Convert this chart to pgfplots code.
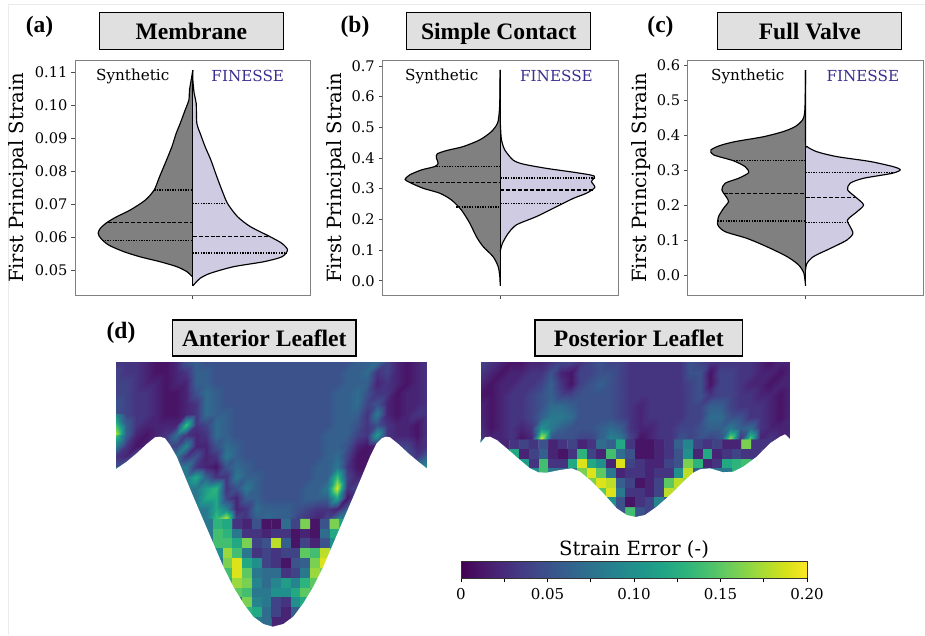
\documentclass[border=0pt]{standalone}
\usepackage{fontspec}
\setmainfont{DejaVu Serif}
\newfontfamily\tf{Liberation Serif}
\usepackage{pgfplots}
\pgfplotsset{compat=1.18}
\definecolor{lav}{RGB}{206,203,226}
\definecolor{ind}{RGB}{58,46,145}
\definecolor{spine}{RGB}{128,128,128}
\definecolor{titlebg}{RGB}{224,224,224}
\definecolor{faint}{RGB}{235,235,235}
\newcommand{\ticksize}{\fontsize{14.6}{16}\selectfont}
\newcommand{\labsize}{\fontsize{19.6}{22}\selectfont}
\newcommand{\synsize}{\fontsize{15.2}{17}\selectfont}
\pgfplotsset{
  myviolin/.style={
    scale only axis, width=235.7pt, height=235.5pt,
    xmin=-353.5, xmax=353.5, anchor=south west,
    axis line style={spine, line width=0.9pt},
    xtick={0}, xticklabels={}, ytick pos=left, xtick pos=bottom,
    tick align=outside, major tick length=3.5pt,
    tick style={black!70, line width=0.7pt},
    tick label style={font=\ticksize},
    /pgf/number format/assume math mode=true,
    ylabel={First Principal Strain},
    ylabel style={font=\labsize, anchor=center},
    yticklabel style={xshift=-0.5pt},
    clip=false},
  myvl/.style={draw=black, fill=gray, line width=1.15pt, smooth, tension=0.45},
  myvr/.style={draw=black, fill=lav, line width=1.15pt, smooth, tension=0.45},
  myq/.style={black, line width=1.3pt, dash pattern=on 1.4pt off 1.2pt},
  mymed/.style={black, line width=1.3pt, dash pattern=on 4pt off 1.9pt},
  myctr/.style={black, line width=1.3pt},
  myheat/.style={scale only axis, hide axis, anchor=south west, y dir=reverse,
    colormap name=viridis, point meta min=0, point meta max=20, clip=false},
  mycells/.style={matrix plot*, point meta=explicit, mesh/cols=32},
  mysmooth/.style={surf, shader=interp, point meta=explicit, mesh/cols=32},
}
\begin{document}
\begin{tikzpicture}
\path[use as bounding box] (0,0) rectangle (925pt,635pt);
\draw[faint, line width=0.8pt] (8pt,0pt) -- (8pt,631pt) -- (925pt,631pt);

% (a) Membrane
\begin{axis}[myviolin, at={(75pt,339.3pt)}, ymin=0.0422, ymax=0.1137,
  ytick={0.05,0.06,0.07,0.08,0.09,0.10,0.11},
  yticklabels={0.05,0.06,0.07,0.08,0.09,0.10,0.11},
  ylabel style={at={(axis description cs:-0.243,0.5)}}]
\addplot[myvl] coordinates {(0,0.1107)(-5,0.1077)(-10,0.1046)(-12,0.1016)(-23,0.0986)(-38,0.0945)(-50,0.0915)(-63,0.0874)(-83,0.0824)(-100,0.0783)(-116,0.0743)(-143,0.0712)(-188,0.0682)(-228,0.0662)(-258,0.0644)(-278,0.0626)(-284,0.0611)(-276,0.0596)(-253,0.0576)(-208,0.0556)(-158,0.0540)(-98,0.0525)(-48,0.0510)(-18,0.0495)(0,0.0478)};
\addplot[myvr] coordinates {(0,0.1107)(0,0.1077)(4,0.1036)(10,0.1006)(12,0.0945)(22,0.0915)(37,0.0874)(54,0.0834)(72,0.0783)(87,0.0743)(104,0.0702)(134,0.0662)(172,0.0632)(232,0.0601)(267,0.0581)(284,0.0561)(267,0.0540)(212,0.0525)(122,0.0510)(52,0.0490)(22,0.0475)(7,0.0460)(0,0.0452)};
\addplot[myq] coordinates {(-116,0.0743)(0,0.0743)};
\addplot[mymed] coordinates {(-256,0.0644)(0,0.0644)};
\addplot[myq] coordinates {(-272,0.0589)(0,0.0589)};
\addplot[myq] coordinates {(0,0.0701)(104,0.0701)};
\addplot[mymed] coordinates {(0,0.0602)(228,0.0602)};
\addplot[myq] coordinates {(0,0.0552)(282,0.0552)};
\addplot[myctr] coordinates {(0,0.1107)(0,0.0452)};
\node[font=\synsize] at (axis description cs:0.245,0.932) {Synthetic};
\node[font=\synsize, text=ind] at (axis description cs:0.733,0.932) {FINESSE};
\end{axis}

% (b) Simple Contact
\begin{axis}[myviolin, at={(382.3pt,339.3pt)}, ymin=-0.0489, ymax=0.7185,
  ytick={0,0.1,0.2,0.3,0.4,0.5,0.6,0.7},
  yticklabels={0.0,0.1,0.2,0.3,0.4,0.5,0.6,0.7},
  ylabel style={at={(axis description cs:-0.194,0.5)}}]
\addplot[myvl] coordinates {(0,0.687)(-1,0.589)(-3,0.546)(-8,0.513)(-26,0.486)(-61,0.459)(-111,0.437)(-161,0.424)(-189,0.413)(-191,0.399)(-186,0.383)(-196,0.372)(-236,0.361)(-271,0.345)(-285,0.330)(-271,0.320)(-231,0.301)(-181,0.285)(-146,0.263)(-116,0.230)(-91,0.187)(-71,0.143)(-51,0.111)(-21,0.078)(-6,0.046)(-1,0.013)(0,-0.016)};
\addplot[myvr] coordinates {(0,0.687)(0,0.55)(1,0.502)(4,0.459)(14,0.426)(39,0.393)(69,0.380)(139,0.366)(229,0.352)(282,0.341)(274,0.323)(284,0.304)(259,0.285)(219,0.268)(169,0.241)(109,0.209)(49,0.182)(24,0.154)(7,0.122)(0,0.095)};
\addplot[myq] coordinates {(-191,0.373)(0,0.373)};
\addplot[mymed] coordinates {(-270,0.320)(0,0.320)};
\addplot[myq] coordinates {(-131,0.240)(0,0.240)};
\addplot[myq] coordinates {(0,0.335)(282,0.335)};
\addplot[mymed] coordinates {(0,0.296)(278,0.296)};
\addplot[myq] coordinates {(0,0.251)(189,0.251)};
\addplot[myctr] coordinates {(0,0.687)(0,-0.016)};
\node[font=\synsize] at (axis description cs:0.252,0.932) {Synthetic};
\node[font=\synsize, text=ind] at (axis description cs:0.739,0.932) {FINESSE};
\end{axis}

% (c) Full Valve
\begin{axis}[myviolin, at={(687.7pt,339.3pt)}, ymin=-0.0592, ymax=0.6151,
  ytick={0,0.1,0.2,0.3,0.4,0.5,0.6},
  yticklabels={0.0,0.1,0.2,0.3,0.4,0.5,0.6},
  ylabel style={at={(axis description cs:-0.198,0.5)}}]
\addplot[myvl] coordinates {(0,0.587)(-1,0.501)(-3,0.463)(-9,0.444)(-31,0.425)(-66,0.411)(-126,0.396)(-211,0.382)(-256,0.371)(-284,0.358)(-276,0.344)(-216,0.327)(-181,0.310)(-171,0.293)(-201,0.277)(-241,0.263)(-251,0.244)(-238,0.224)(-231,0.210)(-246,0.191)(-261,0.167)(-263,0.143)(-241,0.124)(-176,0.105)(-116,0.081)(-56,0.053)(-21,0.029)(-5,0.005)(0,-0.031)};
\addplot[myvr] coordinates {(0,0.587)(0,0.382)(4,0.368)(34,0.353)(94,0.339)(194,0.325)(264,0.310)(284,0.301)(259,0.291)(174,0.277)(134,0.263)(126,0.244)(149,0.224)(174,0.201)(154,0.181)(126,0.158)(134,0.138)(142,0.119)(124,0.100)(74,0.076)(24,0.053)(4,0.033)(0,0.014)};
\addplot[myq] coordinates {(-216,0.327)(0,0.327)};
\addplot[mymed] coordinates {(-246,0.234)(0,0.234)};
\addplot[myq] coordinates {(-263,0.155)(0,0.155)};
\addplot[myq] coordinates {(0,0.293)(269,0.293)};
\addplot[mymed] coordinates {(0,0.222)(149,0.222)};
\addplot[myq] coordinates {(0,0.150)(129,0.150)};
\addplot[myctr] coordinates {(0,0.587)(0,-0.031)};
\node[font=\synsize] at (axis description cs:0.255,0.932) {Synthetic};
\node[font=\synsize, text=ind] at (axis description cs:0.743,0.932) {FINESSE};
\end{axis}

% Anterior leaflet
\begin{axis}[myheat, at={(116pt,8pt)}, width=311pt, height=265pt,
  xmin=116, xmax=427, ymin=362, ymax=627]
\addplot[mysmooth] table[header=false, row sep=\\, meta index=0,
  x expr={116+10.032*mod(\coordindex,32)},
  y expr={362+10.47*floor(\coordindex/32)}]{
3\\3\\3\\2\\1\\1\\2\\5\\6\\5\\5\\5\\5\\5\\5\\5\\5\\5\\5\\5\\5\\5\\5\\5\\6\\6\\7\\4\\2\\1\\2\\3\\
4\\3\\3\\2\\1\\1\\2\\3\\6\\6\\5\\5\\5\\5\\5\\5\\5\\5\\5\\5\\5\\5\\5\\6\\6\\7\\3\\4\\2\\1\\2\\3\\
4\\4\\3\\2\\2\\1\\2\\2\\6\\6\\5\\5\\5\\5\\5\\5\\5\\5\\5\\5\\5\\5\\5\\6\\6\\6\\2\\3\\2\\1\\2\\3\\
4\\4\\3\\3\\2\\1\\1\\2\\5\\7\\6\\5\\5\\5\\5\\5\\5\\5\\5\\5\\5\\5\\6\\6\\7\\5\\3\\3\\1\\2\\2\\3\\
5\\4\\3\\3\\2\\1\\1\\2\\3\\7\\6\\5\\5\\5\\5\\5\\5\\5\\5\\5\\5\\5\\6\\6\\7\\4\\5\\2\\1\\2\\2\\3\\
5\\4\\3\\3\\2\\1\\1\\2\\3\\7\\6\\6\\5\\5\\5\\5\\5\\5\\5\\5\\5\\5\\6\\6\\6\\3\\8\\2\\1\\2\\3\\3\\
9\\6\\3\\2\\2\\2\\2\\14\\3\\4\\7\\6\\5\\5\\5\\5\\5\\5\\5\\5\\5\\5\\6\\6\\5\\3\\5\\3\\2\\2\\1\\3\\
18\\6\\2\\1\\2\\3\\7\\3\\2\\3\\7\\6\\5\\5\\5\\5\\5\\5\\5\\5\\5\\6\\6\\6\\4\\3\\11\\3\\2\\2\\1\\3\\
14\\3\\1\\2\\4\\4\\4\\9\\2\\2\\5\\7\\6\\5\\5\\5\\5\\5\\5\\5\\5\\6\\6\\5\\2\\1\\2\\3\\4\\4\\2\\3\\
3\\2\\5\\8\\8\\8\\8\\3\\5\\2\\3\\8\\6\\5\\5\\5\\5\\5\\5\\5\\5\\6\\7\\4\\1\\1\\1\\2\\5\\5\\3\\6\\
5\\8\\8\\8\\8\\8\\8\\8\\3\\2\\1\\5\\7\\6\\5\\5\\5\\5\\5\\5\\6\\6\\8\\3\\1\\1\\2\\4\\5\\5\\8\\10\\
8\\8\\8\\8\\8\\8\\8\\8\\12\\6\\3\\3\\8\\6\\6\\5\\5\\5\\5\\5\\6\\6\\14\\4\\2\\3\\3\\5\\8\\8\\8\\8\\
8\\8\\8\\8\\8\\8\\8\\8\\8\\11\\13\\3\\5\\8\\6\\5\\5\\5\\5\\6\\6\\8\\19\\3\\4\\5\\7\\8\\8\\8\\8\\8\\
8\\8\\8\\8\\8\\8\\8\\8\\8\\12\\12\\4\\2\\6\\6\\5\\5\\5\\5\\6\\6\\6\\12\\1\\5\\6\\8\\8\\8\\8\\8\\8\\
8\\8\\8\\8\\8\\8\\8\\8\\8\\8\\12\\9\\2\\3\\7\\6\\6\\6\\5\\4\\3\\3\\2\\6\\9\\8\\8\\8\\8\\8\\8\\8\\
8\\8\\8\\8\\8\\8\\8\\8\\8\\8\\14\\19\\4\\3\\6\\7\\6\\6\\4\\3\\2\\4\\8\\9\\8\\8\\8\\8\\8\\8\\8\\8\\
};
\addplot[mycells] table[header=false, row sep=\\, meta index=0,
  x expr={120.86+9.72*mod(\coordindex,32)},
  y expr={523.95+9.815*floor(\coordindex/32)}]{
8\\8\\8\\8\\8\\8\\8\\8\\8\\8\\13\\12\\3\\2\\5\\1\\1\\7\\4\\16\\1\\5\\16\\11\\8\\8\\8\\8\\8\\8\\8\\8\\
8\\8\\8\\8\\8\\8\\8\\8\\8\\8\\14\\13\\8\\3\\3\\2\\3\\3\\1\\2\\1\\7\\12\\6\\8\\8\\8\\8\\8\\8\\8\\8\\
8\\8\\8\\8\\8\\8\\8\\8\\8\\8\\14\\14\\12\\16\\4\\5\\18\\6\\1\\4\\2\\5\\10\\7\\8\\8\\8\\8\\8\\8\\8\\8\\
8\\8\\8\\8\\8\\8\\8\\8\\8\\8\\10\\17\\14\\8\\3\\4\\3\\4\\4\\15\\14\\18\\14\\8\\8\\8\\8\\8\\8\\8\\8\\8\\
8\\8\\8\\8\\8\\8\\8\\8\\8\\8\\8\\16\\19\\12\\10\\4\\3\\1\\5\\6\\16\\19\\15\\8\\8\\8\\8\\8\\8\\8\\8\\8\\
8\\8\\8\\8\\8\\8\\8\\8\\8\\8\\8\\14\\19\\15\\8\\7\\7\\3\\4\\8\\17\\16\\8\\8\\8\\8\\8\\8\\8\\8\\8\\8\\
8\\8\\8\\8\\8\\8\\8\\8\\8\\8\\8\\13\\17\\16\\9\\7\\9\\11\\9\\13\\15\\13\\8\\8\\8\\8\\8\\8\\8\\8\\8\\8\\
8\\8\\8\\8\\8\\8\\8\\8\\8\\8\\8\\8\\15\\14\\8\\8\\10\\10\\12\\15\\14\\8\\8\\8\\8\\8\\8\\8\\8\\8\\8\\8\\
8\\8\\8\\8\\8\\8\\8\\8\\8\\8\\8\\8\\8\\16\\9\\8\\4\\3\\10\\12\\13\\8\\8\\8\\8\\8\\8\\8\\8\\8\\8\\8\\
8\\8\\8\\8\\8\\8\\8\\8\\8\\8\\8\\8\\8\\13\\12\\7\\4\\2\\6\\8\\8\\8\\8\\8\\8\\8\\8\\8\\8\\8\\8\\8\\
8\\8\\8\\8\\8\\8\\8\\8\\8\\8\\8\\8\\8\\8\\8\\7\\2\\2\\6\\6\\8\\8\\8\\8\\8\\8\\8\\8\\8\\8\\8\\8\\
};
\addplot[fill=white, draw=none] coordinates {(110,469)(116,469)(126.7,461.7)(136.7,453.3)(146.7,444)(155,437.3)(160,436.7)(165,438.3)(170,445)(176.7,456.7)(185,476.7)(193.3,496.7)(203.3,520)(213.3,543.3)(223.3,566.7)(233.3,586.7)(243.3,603.3)(253.3,616.7)(263.3,624)(272.7,626.7)(283.3,624)(293.3,616.7)(303.3,603.3)(313.3,586.7)(323.3,566.7)(333.3,543.3)(343.3,520)(353.3,496.7)(361.7,476.7)(370,456.7)(376.7,443.3)(381.7,438.3)(385.7,436.7)(390,437.3)(398.3,444)(408.3,453.3)(418.3,461.7)(426.7,468.3)(432,468.3)(432,634)(110,634)};
\end{axis}

% Posterior leaflet
\begin{axis}[myheat, at={(480.7pt,118pt)}, width=309.3pt, height=155pt,
  xmin=480.7, xmax=790, ymin=362, ymax=517]
\addplot[mysmooth] table[header=false, row sep=\\, meta index=0,
  x expr={480.7+9.977*mod(\coordindex,32)},
  y expr={362+11.07*floor(\coordindex/32)}]{
4\\3\\2\\1\\1\\2\\2\\3\\4\\4\\3\\4\\5\\4\\4\\3\\3\\3\\3\\3\\3\\5\\4\\3\\3\\3\\3\\3\\2\\1\\2\\2\\
3\\2\\1\\2\\2\\3\\3\\5\\2\\1\\4\\4\\5\\5\\4\\3\\3\\3\\3\\3\\3\\5\\5\\1\\4\\4\\3\\3\\2\\2\\1\\2\\
2\\1\\2\\2\\3\\3\\4\\6\\3\\1\\4\\5\\6\\5\\4\\3\\3\\3\\3\\3\\3\\4\\5\\1\\4\\4\\3\\2\\2\\1\\2\\2\\
1\\1\\2\\3\\3\\4\\5\\6\\4\\4\\5\\5\\5\\5\\4\\3\\3\\3\\3\\3\\3\\4\\5\\3\\4\\4\\3\\3\\2\\2\\1\\2\\
2\\1\\2\\3\\3\\4\\5\\7\\7\\6\\5\\5\\5\\5\\4\\3\\2\\3\\3\\3\\3\\4\\4\\6\\6\\4\\3\\3\\3\\2\\1\\2\\
2\\1\\2\\3\\3\\4\\6\\8\\8\\7\\5\\5\\5\\5\\4\\3\\2\\3\\3\\3\\3\\4\\4\\7\\7\\5\\5\\3\\3\\2\\1\\2\\
2\\1\\2\\3\\2\\3\\10\\8\\6\\5\\5\\5\\6\\7\\6\\3\\2\\2\\3\\3\\4\\4\\5\\6\\6\\8\\6\\7\\3\\2\\2\\2\\
3\\2\\2\\3\\1\\2\\19\\5\\5\\5\\4\\4\\6\\9\\8\\4\\1\\2\\3\\3\\5\\4\\5\\4\\5\\17\\3\\15\\2\\3\\2\\3\\
};
\addplot[mycells] table[header=false, row sep=\\, meta index=0,
  x expr={485.53+9.666*mod(\coordindex,32)},
  y expr={444.34+9.6875*floor(\coordindex/32)}]{
8\\3\\2\\3\\4\\3\\5\\2\\3\\4\\2\\3\\7\\6\\12\\3\\1\\1\\2\\3\\6\\9\\4\\3\\4\\2\\2\\16\\3\\3\\3\\3\\
8\\8\\8\\12\\2\\4\\6\\2\\1\\3\\13\\4\\2\\14\\7\\5\\1\\1\\2\\3\\5\\10\\2\\12\\2\\3\\4\\3\\3\\5\\8\\8\\
8\\8\\8\\8\\11\\3\\14\\3\\3\\12\\19\\12\\10\\2\\19\\4\\3\\2\\2\\4\\5\\16\\13\\2\\3\\12\\13\\14\\10\\8\\8\\8\\
8\\8\\8\\8\\8\\10\\14\\8\\7\\8\\16\\19\\15\\8\\2\\3\\3\\2\\3\\3\\10\\18\\6\\8\\8\\8\\13\\13\\8\\8\\8\\8\\
8\\8\\8\\8\\8\\8\\8\\8\\8\\8\\12\\16\\19\\18\\6\\4\\1\\2\\4\\15\\18\\17\\8\\8\\8\\8\\8\\8\\8\\8\\8\\8\\
8\\8\\8\\8\\8\\8\\8\\8\\8\\8\\8\\14\\15\\19\\8\\3\\3\\2\\4\\18\\17\\12\\8\\8\\8\\8\\8\\8\\8\\8\\8\\8\\
8\\8\\8\\8\\8\\8\\8\\8\\8\\8\\8\\8\\10\\10\\5\\1\\3\\4\\9\\6\\8\\8\\8\\8\\8\\8\\8\\8\\8\\8\\8\\8\\
8\\8\\8\\8\\8\\8\\8\\8\\8\\8\\8\\8\\8\\9\\5\\14\\5\\4\\4\\8\\8\\8\\8\\8\\8\\8\\8\\8\\8\\8\\8\\8\\
};
\addplot[fill=white, draw=none] coordinates {(475,442.7)(480.7,442.7)(485,437.3)(490,436.7)(496.7,440)(506.7,448.3)(520,460)(530,468.3)(538.3,472.3)(546.7,472.7)(560,470)(571.7,468.3)(580,471.7)(590,480)(603.3,493.3)(616.7,508.3)(626.7,515)(635.7,517)(645,515)(656.7,506.7)(670,495)(683.3,481.7)(693.3,472.7)(700,469.3)(710,468.3)(723.3,472.3)(733.3,471.7)(743.3,466.7)(756.7,456.7)(770,443.3)(780,436.7)(785,434.3)(790,439)(795,439)(795,525)(475,525)};
\end{axis}

% Colour bar
\begin{axis}[scale only axis, anchor=south west, at={(461pt,57pt)}, width=346pt, height=17pt,
  xmin=0, xmax=0.2, ymin=0, ymax=1, ytick=\empty,
  xtick={0,0.025,0.05,0.075,0.1,0.125,0.15,0.175,0.2},
  xticklabels={0,,0.05,,0.10,,0.15,,0.20},
  xtick pos=bottom, tick align=outside, major tick length=3.5pt,
  tick style={black, line width=0.6pt},
  tick label style={font=\fontsize{15}{17}\selectfont},
  xticklabel style={yshift=-3.5pt},
  /pgf/number format/assume math mode=true,
  axis line style={black!80, line width=0.7pt},
  colormap name=viridis, point meta min=0, point meta max=0.2,
  title={Strain Error (-)},
  title style={font=\labsize, at={(axis description cs:0.5,1.2)}, anchor=south, yshift=-10pt},
  axis on top, view={0}{90}]
\addplot3[surf, shader=interp, point meta=x] coordinates {
(0,0,0) (0.05,0,0) (0.1,0,0) (0.15,0,0) (0.2,0,0)

(0,1,0) (0.05,1,0) (0.1,1,0) (0.15,1,0) (0.2,1,0)
};
\end{axis}

% Headers
\tikzset{hdr/.style={draw=black, fill=titlebg, line width=1.3pt, inner sep=0pt, font=\tf\bfseries\fontsize{23.6}{26}\selectfont, text depth=0pt, anchor=center}}
\node[hdr, minimum width=184pt, minimum height=36.6pt] at (191.3pt,604pt) {Membrane};
\node[hdr, minimum width=184pt, minimum height=36.6pt] at (498.7pt,604pt) {Simple Contact};
\node[hdr, minimum width=184pt, minimum height=36.6pt] at (809.8pt,604pt) {Full Valve};
\node[hdr, minimum width=183.5pt, minimum height=36pt] at (264.3pt,297pt) {Anterior Leaflet};
\node[hdr, minimum width=207.7pt, minimum height=36pt] at (638.8pt,297pt) {Posterior Leaflet};
\tikzset{pan/.style={font=\tf\bfseries\fontsize{23.5}{26}\selectfont, inner sep=0pt, anchor=center}}
\node[pan] at (39.5pt,608pt) {(a)};
\node[pan] at (355pt,608pt) {(b)};
\node[pan] at (660.5pt,608pt) {(c)};
\node[pan] at (121pt,302pt) {(d)};
\end{tikzpicture}
\end{document}
